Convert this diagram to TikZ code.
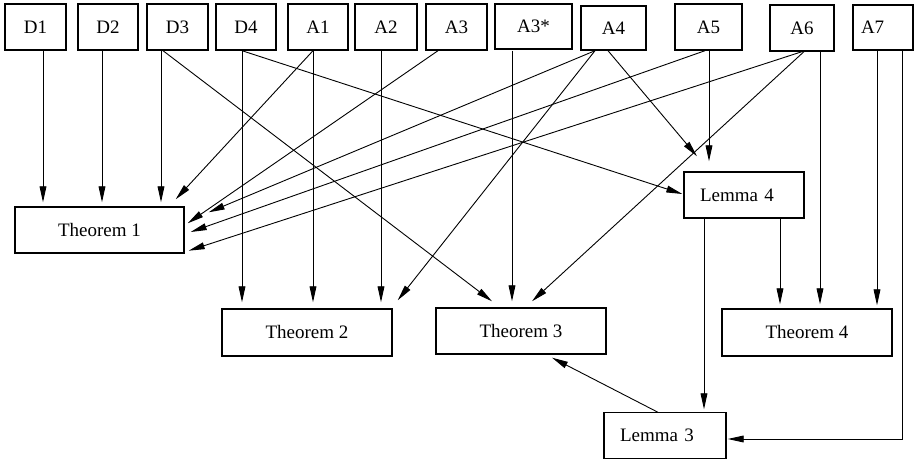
\documentclass[tikz,border=0pt]{standalone}
\usepackage{fontspec}
\setmainfont{Liberation Serif}
\usepackage{tikz}
\usetikzlibrary{positioning,arrows.meta,calc}

\tikzset{
    box/.style={draw, line width=0.7pt, inner sep=0pt, minimum height=23pt, font=\fontsize{9.5}{11}\selectfont},
    lbox/.style={box, align=left, inner xsep=8pt},
    arr/.style={-{Triangle[length=8pt,width=3.4pt]}, line width=0.45pt},
}

\begin{document}
\begin{tikzpicture}[x=0.5pt, y=-0.5pt]
    \useasboundingbox (0,0) rectangle (915,459);

    % Assumptions and definitions (top row)
    \node[box, minimum width=30.5pt] (d1) at (35.5,27) {D1};
    \node[box, minimum width=30pt] (d2) at (108,27) {D2};
    \node[box, minimum width=30.5pt] (d3) at (177.5,27) {D3};
    \node[box, minimum width=30pt] (d4) at (246,27) {D4};
    \node[box, minimum width=30pt] (a1) at (318,27) {A1};
    \node[box, minimum width=31pt] (a2) at (386,27) {A2};
    \node[box, minimum width=30.5pt] (a3) at (456.5,27) {A3};
    \node[box, minimum width=38.5pt, minimum height=22.5pt] (a3s) at (533.5,26.5) {A3*};
    \node[box, minimum width=32.5pt, minimum height=22pt] (a4) at (613.5,28) {A4};
    \node[box, minimum width=33.5pt] (a5) at (708.5,27) {A5};
    \node[box, minimum width=32pt] (a6) at (802,28) {A6};
    \node[box, align=left, text width=22pt, inner xsep=4pt, minimum height=22.5pt] (a7) at (883,27.5) {A7};

    % Results
    \node[box, minimum width=84.5pt] (t1) at (99.5,230) {Theorem 1};
    \node[lbox, text width=44pt] (l4) at (744,195) {Lemma 4};
    \node[box, minimum width=85pt, minimum height=23.5pt] (t2) at (307,332.5) {Theorem 2};
    \node[box, minimum width=85pt] (t3) at (521,331) {Theorem 3};
    \node[box, minimum width=85pt, minimum height=23.5pt] (t4) at (807,332.5) {Theorem 4};
    \node[lbox, text width=45pt] (l3) at (665,435.5) {Lemma 3};

    % Into Theorem 1
    \draw[arr] ([shift={(7.5,0)}]d1.south) -- ([shift={(-56.5,-4)}]t1.north);
    \draw[arr] ([shift={(-6,0)}]d2.south) -- ([shift={(2.5,-4)}]t1.north);
    \draw[arr] ([shift={(-16.5,0)}]d3.south) -- ([shift={(61.5,-4)}]t1.north);
    \draw[arr] ([shift={(-5,0)}]a1.south) -- ([shift={(-9,-7)}]t1.north east);
    \draw[arr] ([shift={(-18.5,0)}]a3.south) -- ([shift={(3,17)}]t1.north east);
    \draw[arr] ([shift={(-18.5,0)}]a4.south) -- ([shift={(24,6)}]t1.north east);
    \draw[arr] ([shift={(-3.5,0)}]a5.south) -- ([shift={(6,2)}]t1.east);
    \draw[arr] ([shift={(3,-1)}]a6.south) -- ([shift={(4,-3)}]t1.south east);

    % Into Theorem 2
    \draw[arr] ([shift={(-4,0)}]d4.south) -- ([shift={(-65,-6)}]t2.north);
    \draw[arr] ([shift={(-5,0)}]a1.south) -- ([shift={(6,-6)}]t2.north);
    \draw[arr] ([shift={(-5,0)}]a2.south) -- ([shift={(74,-6)}]t2.north);
    \draw[arr] ([shift={(-18.5,0)}]a4.south) -- ([shift={(5,-8)}]t2.north east);

    % Into Theorem 3
    \draw[arr] ([shift={(-14.5,0)}]d3.south) -- ([shift={(-29,-6)}]t3.north);
    \draw[arr] ([shift={(-21.5,1)}]a3s.south) -- ([shift={(-9,-6)}]t3.north);
    \draw[arr] ([shift={(3,-1)}]a6.south) -- ([shift={(11,-6)}]t3.north);
    \draw[arr] ([shift={(-7,0.5)}]l3.north) -- ([shift={(31,3)}]t3.south);

    % Into Lemma 4
    \draw[arr] ([shift={(-4,0)}]d4.south) -- ([shift={(-1,-1)}]l4.west);
    \draw[arr] ([shift={(-5.5,0)}]a4.south) -- ([shift={(-47,-15)}]l4.north);
    \draw[arr] ([shift={(0.5,0)}]a5.south) -- ([shift={(-35,-10)}]l4.north);

    % Into Theorem 4
    \draw[arr] ([shift={(36,0)}]l4.south) -- ([shift={(-27,-4)}]t4.north);
    \draw[arr] ([shift={(18,0)}]a6.south) -- ([shift={(13,-4)}]t4.north);
    \draw[arr] ([shift={(-6,0)}]a7.south) -- ([shift={(70,-3)}]t4.north);

    % Into Lemma 3
    \draw[arr] ([shift={(-40,0)}]l4.south) -- ([shift={(39,-2.5)}]l3.north);
    \draw[arr] ([shift={(19,0)}]a7.south) |- ([shift={(1,3.5)}]l3.east);
\end{tikzpicture}
\end{document}
